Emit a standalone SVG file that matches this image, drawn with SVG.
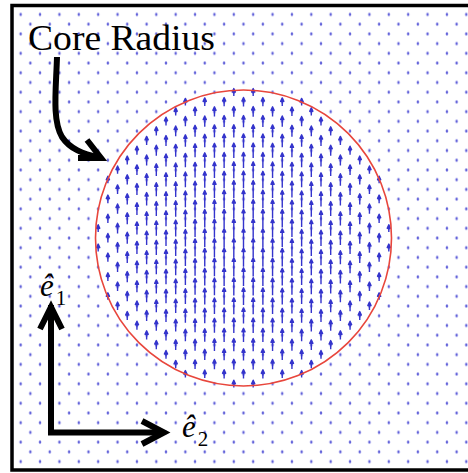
<svg xmlns="http://www.w3.org/2000/svg" xmlns:xlink="http://www.w3.org/1999/xlink" width="468" height="473" viewBox="0 0 468 473">
<style>
.ar{stroke:#3434cc;stroke-width:1.4;fill:#3434cc;stroke-linejoin:round}
.dot{fill:#4848d4;opacity:.85}
.blk{fill:none;stroke:#000;stroke-width:6}
.lbl{font-family:"Liberation Serif","Times New Roman",serif;fill:#000}
</style>
<defs>
<pattern id="dots" patternUnits="userSpaceOnUse" x="238.66" y="233.14" width="19.375" height="19.44">
<ellipse class="dot" cx="4.84" cy="4.86" rx="1.25" ry="1.7"/>
<ellipse class="dot" cx="14.53" cy="14.58" rx="1.25" ry="1.7"/>
</pattern>
<path id="c0" class="ar" d="M0 106.4v-8.9m-1.6 3.5l1.6-3.5 1.6 3.5zM0 127.2v-11.6m-1.6 3.5l1.6-3.5 1.6 3.5zM0 147.7v-13.8m-1.6 3.5l1.6-3.5 1.6 3.5zM0 168.1v-15.7m-1.6 3.5l1.6-3.5 1.6 3.5zM0 188.2v-17.1m-1.6 3.5l1.6-3.5 1.6 3.5zM0 208.2v-18.2m-1.6 3.5l1.6-3.5 1.6 3.5zM0 228v-18.8m-1.6 3.5l1.6-3.5 1.6 3.5zM0 247.5v-19m-1.6 3.5l1.6-3.5 1.6 3.5zM0 266.8v-18.8m-1.6 3.5l1.6-3.5 1.6 3.5zM0 286v-18.2m-1.6 3.5l1.6-3.5 1.6 3.5zM0 304.9v-17.1m-1.6 3.5l1.6-3.5 1.6 3.5zM0 323.6v-15.7m-1.6 3.5l1.6-3.5 1.6 3.5zM0 342.1v-13.8m-1.6 3.5l1.6-3.5 1.6 3.5zM0 360.4v-11.6m-1.6 3.5l1.6-3.5 1.6 3.5zM0 378.5v-8.9m-1.6 3.5l1.6-3.5 1.6 3.5z"/>
<path id="c1" class="ar" d="M0 95.9v-7.3m-1.6 3.5l1.6-3.5 1.6 3.5zM0 116.8v-10.2m-1.6 3.5l1.6-3.5 1.6 3.5zM0 137.4v-12.7m-1.6 3.5l1.6-3.5 1.6 3.5zM0 157.9v-14.8m-1.6 3.5l1.6-3.5 1.6 3.5zM0 178.2v-16.4m-1.6 3.5l1.6-3.5 1.6 3.5zM0 198.2v-17.7m-1.6 3.5l1.6-3.5 1.6 3.5zM0 218.1v-18.5m-1.6 3.5l1.6-3.5 1.6 3.5zM0 237.7v-18.9m-1.6 3.5l1.6-3.5 1.6 3.5zM0 257.2v-18.9m-1.6 3.5l1.6-3.5 1.6 3.5zM0 276.4v-18.5m-1.6 3.5l1.6-3.5 1.6 3.5zM0 295.4v-17.7m-1.6 3.5l1.6-3.5 1.6 3.5zM0 314.3v-16.4m-1.6 3.5l1.6-3.5 1.6 3.5zM0 332.9v-14.8m-1.6 3.5l1.6-3.5 1.6 3.5zM0 351.3v-12.7m-1.6 3.5l1.6-3.5 1.6 3.5zM0 369.5v-10.2m-1.6 3.5l1.6-3.5 1.6 3.5zM0 387.5v-7.3m-1.6 3.5l1.6-3.5 1.6 3.5z"/>
<path id="c2" class="ar" d="M0 106.3v-8.7m-1.6 3.5l1.6-3.5 1.6 3.5zM0 127v-11.4m-1.6 3.5l1.6-3.5 1.6 3.5zM0 147.6v-13.6m-1.6 3.5l1.6-3.5 1.6 3.5zM0 168v-15.5m-1.6 3.5l1.6-3.5 1.6 3.5zM0 188.2v-16.9m-1.6 3.5l1.6-3.5 1.6 3.5zM0 208.1v-18m-1.6 3.5l1.6-3.5 1.6 3.5zM0 227.9v-18.6m-1.6 3.5l1.6-3.5 1.6 3.5zM0 247.4v-18.8m-1.6 3.5l1.6-3.5 1.6 3.5zM0 266.7v-18.6m-1.6 3.5l1.6-3.5 1.6 3.5zM0 285.9v-18m-1.6 3.5l1.6-3.5 1.6 3.5zM0 304.8v-16.9m-1.6 3.5l1.6-3.5 1.6 3.5zM0 323.5v-15.5m-1.6 3.5l1.6-3.5 1.6 3.5zM0 342v-13.6m-1.6 3.5l1.6-3.5 1.6 3.5zM0 360.3v-11.4m-1.6 3.5l1.6-3.5 1.6 3.5zM0 378.4v-8.7m-1.6 3.5l1.6-3.5 1.6 3.5z"/>
<path id="c3" class="ar" d="M0 116.6v-9.8m-1.6 3.5l1.6-3.5 1.6 3.5zM0 137.2v-12.3m-1.6 3.5l1.6-3.5 1.6 3.5zM0 157.7v-14.4m-1.6 3.5l1.6-3.5 1.6 3.5zM0 178v-16m-1.6 3.5l1.6-3.5 1.6 3.5zM0 198v-17.2m-1.6 3.5l1.6-3.5 1.6 3.5zM0 217.9v-18.1m-1.6 3.5l1.6-3.5 1.6 3.5zM0 237.5v-18.5m-1.6 3.5l1.6-3.5 1.6 3.5zM0 257v-18.5m-1.6 3.5l1.6-3.5 1.6 3.5zM0 276.2v-18.1m-1.6 3.5l1.6-3.5 1.6 3.5zM0 295.2v-17.2m-1.6 3.5l1.6-3.5 1.6 3.5zM0 314v-16m-1.6 3.5l1.6-3.5 1.6 3.5zM0 332.7v-14.4m-1.6 3.5l1.6-3.5 1.6 3.5zM0 351.1v-12.3m-1.6 3.5l1.6-3.5 1.6 3.5zM0 369.3v-9.8m-1.6 3.5l1.6-3.5 1.6 3.5z"/>
<path id="c4" class="ar" d="M0 106v-8.1m-1.6 3.5l1.6-3.5 1.6 3.5zM0 126.7v-10.7m-1.6 3.5l1.6-3.5 1.6 3.5zM0 147.3v-13m-1.6 3.5l1.6-3.5 1.6 3.5zM0 167.7v-14.9m-1.6 3.5l1.6-3.5 1.6 3.5zM0 187.8v-16.3m-1.6 3.5l1.6-3.5 1.6 3.5zM0 207.8v-17.3m-1.6 3.5l1.6-3.5 1.6 3.5zM0 227.5v-18m-1.6 3.5l1.6-3.5 1.6 3.5zM0 247.1v-18.2m-1.6 3.5l1.6-3.5 1.6 3.5zM0 266.4v-18m-1.6 3.5l1.6-3.5 1.6 3.5zM0 285.6v-17.3m-1.6 3.5l1.6-3.5 1.6 3.5zM0 304.5v-16.3m-1.6 3.5l1.6-3.5 1.6 3.5zM0 323.2v-14.9m-1.6 3.5l1.6-3.5 1.6 3.5zM0 341.7v-13m-1.6 3.5l1.6-3.5 1.6 3.5zM0 360v-10.7m-1.6 3.5l1.6-3.5 1.6 3.5zM0 378.1v-8.1m-1.6 3.5l1.6-3.5 1.6 3.5z"/>
<path id="c5" class="ar" d="M0 116.1v-9m-1.6 3.5l1.6-3.5 1.6 3.5zM0 136.8v-11.5m-1.6 3.5l1.6-3.5 1.6 3.5zM0 157.3v-13.5m-1.6 3.5l1.6-3.5 1.6 3.5zM0 177.6v-15.2m-1.6 3.5l1.6-3.5 1.6 3.5zM0 197.6v-16.4m-1.6 3.5l1.6-3.5 1.6 3.5zM0 217.5v-17.2m-1.6 3.5l1.6-3.5 1.6 3.5zM0 237.1v-17.7m-1.6 3.5l1.6-3.5 1.6 3.5zM0 256.6v-17.7m-1.6 3.5l1.6-3.5 1.6 3.5zM0 275.8v-17.2m-1.6 3.5l1.6-3.5 1.6 3.5zM0 294.8v-16.4m-1.6 3.5l1.6-3.5 1.6 3.5zM0 313.6v-15.2m-1.6 3.5l1.6-3.5 1.6 3.5zM0 332.3v-13.5m-1.6 3.5l1.6-3.5 1.6 3.5zM0 350.7v-11.5m-1.6 3.5l1.6-3.5 1.6 3.5zM0 368.9v-9m-1.6 3.5l1.6-3.5 1.6 3.5z"/>
<path id="c6" class="ar" d="M0 105.4v-7m-1.6 3.5l1.6-3.5 1.6 3.5zM0 126.2v-9.7m-1.6 3.5l1.6-3.5 1.6 3.5zM0 146.8v-12m-1.6 3.5l1.6-3.5 1.6 3.5zM0 167.2v-13.8m-1.6 3.5l1.6-3.5 1.6 3.5zM0 187.3v-15.3m-1.6 3.5l1.6-3.5 1.6 3.5zM0 207.3v-16.3m-1.6 3.5l1.6-3.5 1.6 3.5zM0 227v-16.9m-1.6 3.5l1.6-3.5 1.6 3.5zM0 246.6v-17.1m-1.6 3.5l1.6-3.5 1.6 3.5zM0 265.9v-16.9m-1.6 3.5l1.6-3.5 1.6 3.5zM0 285v-16.3m-1.6 3.5l1.6-3.5 1.6 3.5zM0 304v-15.3m-1.6 3.5l1.6-3.5 1.6 3.5zM0 322.7v-13.8m-1.6 3.5l1.6-3.5 1.6 3.5zM0 341.2v-12m-1.6 3.5l1.6-3.5 1.6 3.5zM0 359.5v-9.7m-1.6 3.5l1.6-3.5 1.6 3.5zM0 377.6v-7m-1.6 3.5l1.6-3.5 1.6 3.5z"/>
<path id="c7" class="ar" d="M0 115.5v-7.8m-1.6 3.5l1.6-3.5 1.6 3.5zM0 136.2v-10.2m-1.6 3.5l1.6-3.5 1.6 3.5zM0 156.7v-12.3m-1.6 3.5l1.6-3.5 1.6 3.5zM0 176.9v-13.9m-1.6 3.5l1.6-3.5 1.6 3.5zM0 197v-15.2m-1.6 3.5l1.6-3.5 1.6 3.5zM0 216.8v-16m-1.6 3.5l1.6-3.5 1.6 3.5zM0 236.5v-16.4m-1.6 3.5l1.6-3.5 1.6 3.5zM0 255.9v-16.4m-1.6 3.5l1.6-3.5 1.6 3.5zM0 275.2v-16m-1.6 3.5l1.6-3.5 1.6 3.5zM0 294.2v-15.2m-1.6 3.5l1.6-3.5 1.6 3.5zM0 313v-13.9m-1.6 3.5l1.6-3.5 1.6 3.5zM0 331.6v-12.3m-1.6 3.5l1.6-3.5 1.6 3.5zM0 350v-10.2m-1.6 3.5l1.6-3.5 1.6 3.5zM0 368.2v-7.8m-1.6 3.5l1.6-3.5 1.6 3.5z"/>
<path id="c8" class="ar" d="M0 125.5v-8.3m-1.6 3.5l1.6-3.5 1.6 3.5zM0 146.1v-10.5m-1.6 3.5l1.6-3.5 1.6 3.5zM0 166.4v-12.4m-1.6 3.5l1.6-3.5 1.6 3.5zM0 186.6v-13.8m-1.6 3.5l1.6-3.5 1.6 3.5zM0 206.6v-14.9m-1.6 3.5l1.6-3.5 1.6 3.5zM0 226.3v-15.5m-1.6 3.5l1.6-3.5 1.6 3.5zM0 245.9v-15.7m-1.6 3.5l1.6-3.5 1.6 3.5zM0 265.2v-15.5m-1.6 3.5l1.6-3.5 1.6 3.5zM0 284.3v-14.9m-1.6 3.5l1.6-3.5 1.6 3.5zM0 303.2v-13.8m-1.6 3.5l1.6-3.5 1.6 3.5zM0 322v-12.4m-1.6 3.5l1.6-3.5 1.6 3.5zM0 340.5v-10.5m-1.6 3.5l1.6-3.5 1.6 3.5zM0 358.8v-8.3m-1.6 3.5l1.6-3.5 1.6 3.5z"/>
<path id="c9" class="ar" d="M0 135.4v-8.6m-1.6 3.5l1.6-3.5 1.6 3.5zM0 155.8v-10.6m-1.6 3.5l1.6-3.5 1.6 3.5zM0 176.1v-12.3m-1.6 3.5l1.6-3.5 1.6 3.5zM0 196.2v-13.5m-1.6 3.5l1.6-3.5 1.6 3.5zM0 216v-14.4m-1.6 3.5l1.6-3.5 1.6 3.5zM0 235.7v-14.8m-1.6 3.5l1.6-3.5 1.6 3.5zM0 255.1v-14.8m-1.6 3.5l1.6-3.5 1.6 3.5zM0 274.3v-14.4m-1.6 3.5l1.6-3.5 1.6 3.5zM0 293.4v-13.5m-1.6 3.5l1.6-3.5 1.6 3.5zM0 312.2v-12.3m-1.6 3.5l1.6-3.5 1.6 3.5zM0 330.8v-10.6m-1.6 3.5l1.6-3.5 1.6 3.5zM0 349.2v-8.6m-1.6 3.5l1.6-3.5 1.6 3.5z"/>
<path id="c10" class="ar" d="M0 145.1v-8.7m-1.6 3.5l1.6-3.5 1.6 3.5zM0 165.5v-10.5m-1.6 3.5l1.6-3.5 1.6 3.5zM0 185.7v-12m-1.6 3.5l1.6-3.5 1.6 3.5zM0 205.6v-13m-1.6 3.5l1.6-3.5 1.6 3.5zM0 225.4v-13.6m-1.6 3.5l1.6-3.5 1.6 3.5zM0 244.9v-13.8m-1.6 3.5l1.6-3.5 1.6 3.5zM0 264.3v-13.6m-1.6 3.5l1.6-3.5 1.6 3.5zM0 283.4v-13m-1.6 3.5l1.6-3.5 1.6 3.5zM0 302.3v-12m-1.6 3.5l1.6-3.5 1.6 3.5zM0 321v-10.5m-1.6 3.5l1.6-3.5 1.6 3.5zM0 339.5v-8.7m-1.6 3.5l1.6-3.5 1.6 3.5z"/>
<path id="c11" class="ar" d="M0 154.8v-8.6m-1.6 3.5l1.6-3.5 1.6 3.5zM0 175.1v-10.2m-1.6 3.5l1.6-3.5 1.6 3.5zM0 195.1v-11.5m-1.6 3.5l1.6-3.5 1.6 3.5zM0 215v-12.3m-1.6 3.5l1.6-3.5 1.6 3.5zM0 234.6v-12.7m-1.6 3.5l1.6-3.5 1.6 3.5zM0 254.1v-12.7m-1.6 3.5l1.6-3.5 1.6 3.5zM0 273.3v-12.3m-1.6 3.5l1.6-3.5 1.6 3.5zM0 292.3v-11.5m-1.6 3.5l1.6-3.5 1.6 3.5zM0 311.2v-10.2m-1.6 3.5l1.6-3.5 1.6 3.5zM0 329.8v-8.6m-1.6 3.5l1.6-3.5 1.6 3.5z"/>
<path id="c12" class="ar" d="M0 164.4v-8.3m-1.6 3.5l1.6-3.5 1.6 3.5zM0 184.5v-9.7m-1.6 3.5l1.6-3.5 1.6 3.5zM0 204.5v-10.7m-1.6 3.5l1.6-3.5 1.6 3.5zM0 224.2v-11.4m-1.6 3.5l1.6-3.5 1.6 3.5zM0 243.8v-11.6m-1.6 3.5l1.6-3.5 1.6 3.5zM0 263.1v-11.4m-1.6 3.5l1.6-3.5 1.6 3.5zM0 282.3v-10.7m-1.6 3.5l1.6-3.5 1.6 3.5zM0 301.2v-9.7m-1.6 3.5l1.6-3.5 1.6 3.5zM0 319.9v-8.3m-1.6 3.5l1.6-3.5 1.6 3.5z"/>
<path id="c13" class="ar" d="M0 173.8v-7.8m-1.6 3.5l1.6-3.5 1.6 3.5zM0 193.9v-9m-1.6 3.5l1.6-3.5 1.6 3.5zM0 213.8v-9.8m-1.6 3.5l1.6-3.5 1.6 3.5zM0 233.4v-10.2m-1.6 3.5l1.6-3.5 1.6 3.5zM0 252.8v-10.2m-1.6 3.5l1.6-3.5 1.6 3.5zM0 272.1v-9.8m-1.6 3.5l1.6-3.5 1.6 3.5zM0 291.1v-9m-1.6 3.5l1.6-3.5 1.6 3.5zM0 309.9v-7.8m-1.6 3.5l1.6-3.5 1.6 3.5z"/>
<path id="c14" class="ar" d="M0 183.2v-7m-1.6 3.5l1.6-3.5 1.6 3.5zM0 203.2v-8.1m-1.6 3.5l1.6-3.5 1.6 3.5zM0 222.9v-8.7m-1.6 3.5l1.6-3.5 1.6 3.5zM0 242.4v-8.9m-1.6 3.5l1.6-3.5 1.6 3.5zM0 261.8v-8.7m-1.6 3.5l1.6-3.5 1.6 3.5zM0 280.9v-8.1m-1.6 3.5l1.6-3.5 1.6 3.5zM0 299.8v-7m-1.6 3.5l1.6-3.5 1.6 3.5z"/>
<path id="c15" class="ar" d="M0 232v-7.3m-1.6 3.5l1.6-3.5 1.6 3.5zM0 251.4v-7.3m-1.6 3.5l1.6-3.5 1.6 3.5z"/>
</defs>
<rect x="0" y="0" width="468" height="473" fill="#fff"/>
<g id="field">
<rect x="14" y="7" width="454" height="461" fill="url(#dots)"/>
<use href="#c0" x="243.5"/>
<use href="#c1" x="253.19"/><use href="#c1" x="233.81"/>
<use href="#c2" x="262.88"/><use href="#c2" x="224.13"/>
<use href="#c3" x="272.56"/><use href="#c3" x="214.44"/>
<use href="#c4" x="282.25"/><use href="#c4" x="204.75"/>
<use href="#c5" x="291.94"/><use href="#c5" x="195.06"/>
<use href="#c6" x="301.63"/><use href="#c6" x="185.38"/>
<use href="#c7" x="311.31"/><use href="#c7" x="175.69"/>
<use href="#c8" x="321"/><use href="#c8" x="166"/>
<use href="#c9" x="330.69"/><use href="#c9" x="156.31"/>
<use href="#c10" x="340.38"/><use href="#c10" x="146.63"/>
<use href="#c11" x="350.06"/><use href="#c11" x="136.94"/>
<use href="#c12" x="359.75"/><use href="#c12" x="127.25"/>
<use href="#c13" x="369.44"/><use href="#c13" x="117.56"/>
<use href="#c14" x="379.13"/><use href="#c14" x="107.88"/>
<use href="#c15" x="388.81"/><use href="#c15" x="98.19"/>
</g>
<g id="core">
<circle cx="243.5" cy="238" r="148" fill="none" stroke="#e8463c" stroke-width="1.6"/>
</g>
<g id="frame">
<rect x="12" y="5.5" width="470" height="464.5" fill="none" stroke="#000" stroke-width="3.5"/>
</g>
<g id="label-core">
<text class="lbl" x="28" y="50" font-size="35" textLength="187" lengthAdjust="spacingAndGlyphs">Core Radius</text>
</g>
<g id="connectors">
<path class="blk" d="M57 57C56 90 52 120 62 137C70 149 83 154 99 157.5"/>
<path class="blk" d="M87 140L101 158L78 158" stroke-linejoin="miter"/>
<path class="blk" d="M51 305V432.5H164" stroke-linejoin="miter"/>
<path class="blk" d="M40 329L51 307L62 329" stroke-linejoin="miter"/>
<path class="blk" d="M142 421L164 432.5L142 444" stroke-linejoin="miter"/>
</g>
<g id="axis-labels">
<text class="lbl" x="40" y="296" font-size="31" font-style="italic">ê<tspan font-style="normal" font-size="21" dx="2" dy="9">1</tspan></text>
<text class="lbl" x="182" y="437" font-size="31" font-style="italic">ê<tspan font-style="normal" font-size="21" dx="2" dy="9">2</tspan></text>
</g>
</svg>
